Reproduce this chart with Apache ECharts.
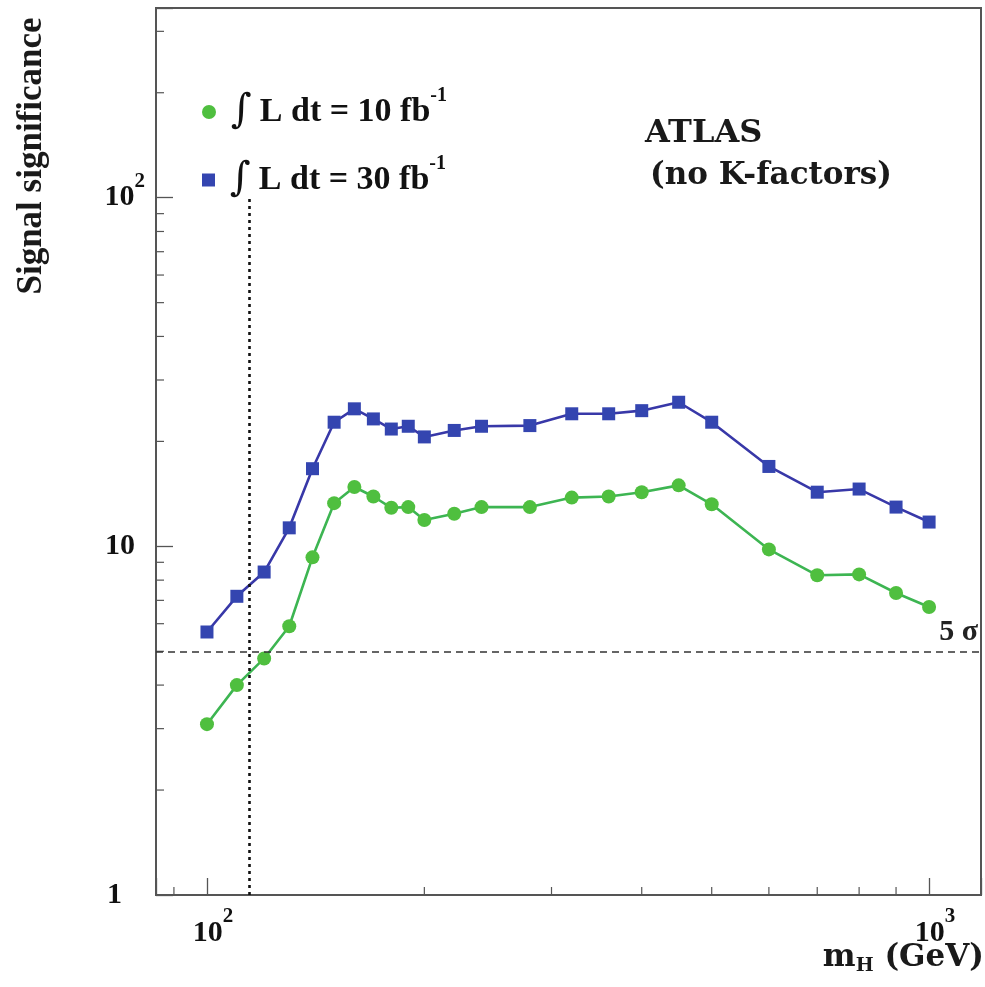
<!DOCTYPE html>
<html>
<head>
<meta charset="utf-8">
<script src="https://cdn.jsdelivr.net/npm/echarts@6/dist/echarts.min.js"></script>
<style>
html,body{margin:0;padding:0;background:#fff;}
#chart{width:985px;height:987px;}
</style>
</head>
<body>
<div id="chart"></div>
<script>
// ---- data ----
const masses = [100,110,120,130,140,150,160,170,180,190,200,220,240,280,320,360,400,450,500,600,700,800,900,1000];
const sig10 = [3.09,4.0,4.77,5.9,9.3,13.3,14.8,13.9,12.9,12.96,11.9,12.4,12.96,12.96,13.8,13.9,14.3,14.96,13.2,9.8,8.26,8.31,7.35,6.7];
const sig30 = [5.68,7.19,8.44,11.3,16.7,22.7,24.8,23.2,21.7,22.1,20.6,21.5,22.1,22.2,24.0,24.0,24.5,25.9,22.7,16.95,14.3,14.6,12.96,11.74];
const lumis = [10, 30];
const xMinorTicks = [90,200,300,400,500,600,700,800,900];
const yMinorTicks = [2,3,4,5,6,7,8,9,20,30,40,50,60,70,80,90,200,300];
const X_MIN = 85, X_MAX = 1180, Y_MIN = 1, Y_MAX = 350;
const FIVE_SIGMA = 5;
const LEP_LIMIT = 114.4;
const LEP_LINE_TOP = 100;

const SERIF = "'Liberation Serif','Times New Roman',serif";
const DSERIF = "'DejaVu Serif',serif";
const GREEN = '#4fbf3f', GREEN_LINE = '#3db552';
const BLUE = '#3445b0', BLUE_LINE = '#3838a8';
const AXIS = '#555';

const names = lumis.map(l => '\u222B L dt = ' + l + ' fb-1');

function isPow10(v) {
  const l = Math.log10(v);
  return Math.abs(l - Math.round(l)) < 1e-6;
}

const tickRich = {
  b: {fontFamily: SERIF, fontWeight: 'bold', fontSize: 30, lineHeight: 54, color: '#111'},
  s: {fontFamily: SERIF, fontWeight: 'bold', fontSize: 21, lineHeight: 20, verticalAlign: 'top', color: '#111'},
  p: {width: 12, fontSize: 10},
  q1: {width: 23, fontSize: 10},
  q2: {width: 10, fontSize: 10}
};

const legendRich = {
  i: {fontFamily: DSERIF, fontSize: 40, lineHeight: 52, padding: [0, 8, 0, 10], color: '#111'},
  t: {fontFamily: SERIF, fontWeight: 'bold', fontSize: 34, lineHeight: 52, color: '#111'},
  s: {fontFamily: SERIF, fontWeight: 'bold', fontSize: 20, lineHeight: 14, verticalAlign: 'top', color: '#111'}
};
function legendFmt(name) {
  const idx = names.indexOf(name);
  return '{i|\u222B}{t|L dt = ' + lumis[idx] + ' fb}{s|-1}';
}

function tickRender(dir) {
  return function (params, api) {
    const p = api.coord([api.value(0), api.value(1)]);
    const shape = dir === 'x'
      ? {x1: p[0], y1: p[1], x2: p[0], y2: p[1] - 8}
      : {x1: p[0], y1: p[1], x2: p[0] + 8, y2: p[1]};
    return {type: 'line', shape: shape, style: {stroke: AXIS, lineWidth: 1.2}};
  };
}

const chart = echarts.init(document.getElementById('chart'), null, {renderer: 'canvas'});
chart.setOption({
  animation: false,
  backgroundColor: '#fff',
  grid: {left: 156, top: 8, right: 4, bottom: 92, show: true, borderColor: AXIS, borderWidth: 2, backgroundColor: 'transparent'},
  xAxis: {
    type: 'log', logBase: 10, min: X_MIN, max: X_MAX,
    axisLine: {show: true, lineStyle: {color: AXIS, width: 2}},
    axisTick: {show: true, inside: true, length: 17, lineStyle: {color: AXIS, width: 1.3}},
    splitLine: {show: false},
    axisLabel: {
      margin: 11,
      formatter: function (v) {
        if (!isPow10(v)) return '';
        const e = Math.round(Math.log10(v));
        return '{p| }{b|10}{s|' + e + '}';
      },
      rich: tickRich
    }
  },
  yAxis: {
    type: 'log', logBase: 10, min: Y_MIN, max: Y_MAX,
    axisLine: {show: true, lineStyle: {color: AXIS, width: 2}},
    axisTick: {show: true, inside: true, length: 17, lineStyle: {color: AXIS, width: 1.3}},
    splitLine: {show: false},
    axisLabel: {
      margin: 11,
      formatter: function (v) {
        if (!isPow10(v)) return '';
        const e = Math.round(Math.log10(v));
        if (e === 0) return '{b|1}{q1| }';
        if (e === 1) return '{b|10}{q2| }';
        return '{b|10}{s|' + e + '}';
      },
      rich: tickRich
    }
  },
  legend: [
    {data: [names[0]], left: 202, top: 86, padding: 0, icon: 'circle', itemWidth: 14, itemHeight: 14,
     formatter: legendFmt, textStyle: {rich: legendRich}},
    {data: [names[1]], left: 202, top: 154, padding: 0, icon: 'rect', itemWidth: 13, itemHeight: 13,
     formatter: legendFmt, textStyle: {rich: legendRich}}
  ],
  graphic: [
    {type: 'text', x: 645, y: 134, style: {text: 'ATLAS', font: "bold 32px 'DejaVu Serif'", fill: '#1a1a1a', align: 'left', verticalAlign: 'middle'}},
    {type: 'text', x: 650, y: 176, style: {text: '(no K-factors)', font: "bold 31px 'DejaVu Serif'", fill: '#1a1a1a', align: 'left', verticalAlign: 'middle'}},
    {type: 'text', x: 32, y: 156, rotation: Math.PI / 2, style: {text: 'Signal significance', font: "bold 35px 'Liberation Serif'", fill: '#1a1a1a', align: 'center', verticalAlign: 'middle'}},
    {type: 'text', x: 984, y: 959, style: {
      text: '{m|m}{h|H}{g| (GeV)}', align: 'right', verticalAlign: 'middle',
      rich: {
        m: {fontFamily: DSERIF, fontWeight: 'bold', fontSize: 31, lineHeight: 34, verticalAlign: 'top', fill: '#1a1a1a'},
        h: {fontFamily: DSERIF, fontWeight: 'bold', fontSize: 19, lineHeight: 2, verticalAlign: 'bottom', fill: '#1a1a1a'},
        g: {fontFamily: DSERIF, fontWeight: 'bold', fontSize: 31, lineHeight: 34, verticalAlign: 'top', fill: '#1a1a1a'}
      }
    }}
  ],
  series: [
    {
      type: 'custom', coordinateSystem: 'cartesian2d', silent: true, clip: false, z: 1,
      renderItem: tickRender('x'),
      data: xMinorTicks.map(v => [v, Y_MIN])
    },
    {
      type: 'custom', coordinateSystem: 'cartesian2d', silent: true, clip: false, z: 1,
      renderItem: tickRender('y'),
      data: yMinorTicks.map(v => [X_MIN, v])
    },
    {
      name: names[0], type: 'line', symbol: 'circle', symbolSize: 14,
      data: masses.map((m, i) => [m, sig10[i]]),
      lineStyle: {color: GREEN_LINE, width: 2.6},
      itemStyle: {color: GREEN},
      z: 3,
      markLine: {
        silent: true, symbol: ['none', 'none'], animation: false,
        data: [
          {yAxis: FIVE_SIGMA,
           lineStyle: {type: [7, 5], color: '#333', width: 1.6},
           label: {show: true, position: 'insideEndTop', formatter: '5 \u03C3', distance: [3, 4],
                   fontFamily: SERIF, fontWeight: 'bold', fontSize: 30, color: '#222'}},
          [{coord: [LEP_LIMIT, Y_MIN], lineStyle: {type: [3, 4], color: '#111', width: 2.6}, label: {show: false}},
           {coord: [LEP_LIMIT, LEP_LINE_TOP]}]
        ]
      }
    },
    {
      name: names[1], type: 'line', symbol: 'rect', symbolSize: 13,
      data: masses.map((m, i) => [m, sig30[i]]),
      lineStyle: {color: BLUE_LINE, width: 2.6},
      itemStyle: {color: BLUE},
      z: 3
    }
  ]
});
</script>
</body>
</html>
